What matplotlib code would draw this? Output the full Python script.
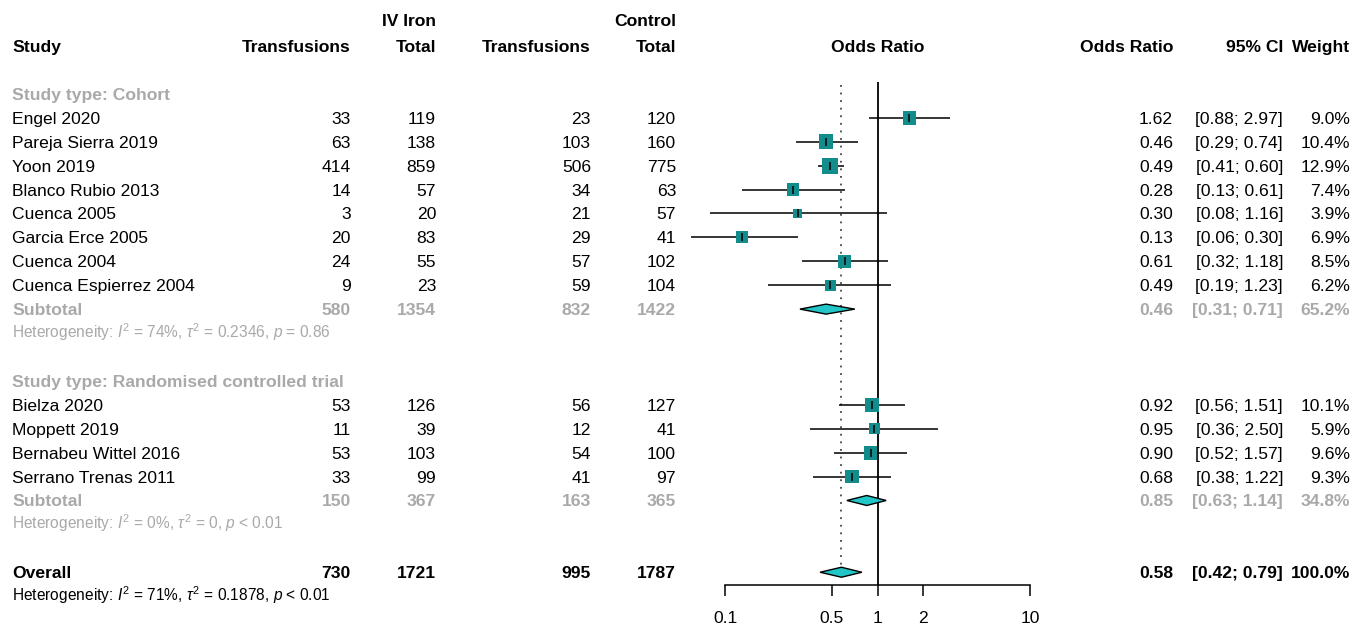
import numpy as np
import matplotlib
matplotlib.use("Agg")
import matplotlib.pyplot as plt

plt.rcParams['font.family'] = ['Liberation Sans', 'DejaVu Sans']
plt.rcParams['mathtext.fontset'] = 'custom'
plt.rcParams['mathtext.rm'] = 'Liberation Sans'
plt.rcParams['mathtext.it'] = 'Liberation Sans:italic'
plt.rcParams['mathtext.bf'] = 'Liberation Sans:bold'

# study level data
studies = ["Engel 2020", "Pareja Sierra 2019", "Yoon 2019", "Blanco Rubio 2013",
           "Cuenca 2005", "Garcia Erce 2005", "Cuenca 2004", "Cuenca Espierrez 2004",
           "Bielza 2020", "Moppett 2019", "Bernabeu Wittel 2016", "Serrano Trenas 2011"]
iv_events = [33, 63, 414, 14, 3, 20, 24, 9, 53, 11, 53, 33]
iv_total = [119, 138, 859, 57, 20, 83, 55, 23, 126, 39, 103, 99]
ctrl_events = [23, 103, 506, 34, 21, 29, 57, 59, 56, 12, 54, 41]
ctrl_total = [120, 160, 775, 63, 57, 41, 102, 104, 127, 41, 100, 97]
odds_ratio = [1.62, 0.46, 0.49, 0.28, 0.30, 0.13, 0.61, 0.49, 0.92, 0.95, 0.90, 0.68]
ci_lower = [0.88, 0.29, 0.41, 0.13, 0.08, 0.06, 0.32, 0.19, 0.56, 0.36, 0.52, 0.38]
ci_upper = [2.97, 0.74, 0.60, 0.61, 1.16, 0.30, 1.18, 1.23, 1.51, 2.50, 1.57, 1.22]
weights = [9.0, 10.4, 12.9, 7.4, 3.9, 6.9, 8.5, 6.2, 10.1, 5.9, 9.6, 9.3]

# subgroups
group_names = ["Study type: Cohort", "Study type: Randomised controlled trial"]
group_sizes = [8, 4]
sub_iv_events = [580, 150]
sub_iv_total = [1354, 367]
sub_ctrl_events = [832, 163]
sub_ctrl_total = [1422, 365]
sub_or = [0.46, 0.85]
sub_lower = [0.31, 0.63]
sub_upper = [0.71, 1.14]
sub_weight = [65.2, 34.8]
sub_het = [r"Heterogeneity: $I^2$ = 74%, $\tau^2$ = 0.2346, $p$ = 0.86",
           r"Heterogeneity: $I^2$ = 0%, $\tau^2$ = 0, $p$ < 0.01"]

# overall
overall_counts = [730, 1721, 995, 1787]
overall_or = 0.58
overall_lower = 0.42
overall_upper = 0.79
overall_weight = 100.0
overall_het = r"Heterogeneity: $I^2$ = 71%, $\tau^2$ = 0.1878, $p$ < 0.01"

axis_ticks = [0.1, 0.5, 1, 2, 10]
axis_labels = ["0.1", "0.5", "1", "2", "10"]

W, H = 1367, 625
GRAY = "#a9a9a9"
SQ_COL = "#138c8c"
DIA_COL = "#22c6c6"
FS = 12.6
FS_HET = 11.2

fig = plt.figure(figsize=(W / 100, H / 100), dpi=100)
tab = fig.add_axes([0, 0, 1, 1])
tab.set_xlim(0, W)
tab.set_ylim(H, 0)
tab.axis("off")

# forest panel: x in log odds ratio, y in pixel rows
px0, px1, ax_bottom = 680, 1075, 585
ppd = 152.5  # pixels per decade
lo_lim = 10 ** (np.log10(0.1) - (725 - px0) / ppd)
hi_lim = 10 ** (np.log10(0.1) + (px1 - 725) / ppd)
fp = fig.add_axes([px0 / W, (H - ax_bottom) / H, (px1 - px0) / W, ax_bottom / H])
fp.set_xscale("log")
fp.set_xlim(lo_lim, hi_lim)
fp.set_ylim(ax_bottom, 0)
fp.patch.set_alpha(0)
for s in ["top", "left", "right"]:
    fp.spines[s].set_visible(False)
fp.spines["bottom"].set_bounds(0.1, 10)
fp.spines["bottom"].set_linewidth(1.1)
fp.set_yticks([])
fp.set_xticks(axis_ticks)
fp.set_xticklabels(axis_labels)
fp.minorticks_off()
fp.tick_params(axis="x", direction="out", length=8, width=1.1, pad=10.5, labelsize=FS)

row0, step = 46.0, 23.92


def row_y(i):
    return row0 + step * i


# column right edges
c_iv_ev, c_iv_tot, c_ct_ev, c_ct_tot = 351, 436, 591, 676
c_or, c_ci, c_w = 1173, 1283, 1350


def put(x, y, s, ha="right", color="black", bold=False, size=FS):
    tab.text(x, y + 6, s, ha=ha, va="baseline", color=color, fontsize=size,
             fontweight="bold" if bold else "normal")


# headers
put(436, row_y(-1.08), "IV Iron", bold=True)
put(676, row_y(-1.08), "Control", bold=True)
put(12, row_y(0), "Study", ha="left", bold=True)
put(c_iv_ev, row_y(0), "Transfusions", bold=True)
put(c_iv_tot, row_y(0), "Total", bold=True)
put(c_ct_ev, row_y(0), "Transfusions", bold=True)
put(c_ct_tot, row_y(0), "Total", bold=True)
put(877.5, row_y(0), "Odds Ratio", ha="center", bold=True)
put(c_or, row_y(0), "Odds Ratio", bold=True)
put(c_ci, row_y(0), "95% CI", bold=True)
put(c_w, row_y(0), "Weight", bold=True)


def diamond(est, lo, hi, y, h=5.0):
    fp.fill([lo, est, hi, est], [y, y - h, y, y + h], facecolor=DIA_COL,
            edgecolor="black", linewidth=1.0, zorder=3)


study_rows = []
r = 2
start = 0
for g, n in enumerate(group_sizes):
    put(12, row_y(r), group_names[g], ha="left", color=GRAY, bold=True)
    r += 1
    for k in range(start, start + n):
        y = row_y(r)
        study_rows.append(y)
        put(12, y, studies[k], ha="left")
        put(c_iv_ev, y, str(iv_events[k]))
        put(c_iv_tot, y, str(iv_total[k]))
        put(c_ct_ev, y, str(ctrl_events[k]))
        put(c_ct_tot, y, str(ctrl_total[k]))
        put(c_or, y, f"{odds_ratio[k]:.2f}")
        put(c_ci, y, f"[{ci_lower[k]:.2f}; {ci_upper[k]:.2f}]")
        put(c_w, y, f"{weights[k]:.1f}%")
        r += 1
    start += n
    y = row_y(r)
    put(12, y, "Subtotal", ha="left", color=GRAY, bold=True)
    put(c_iv_ev, y, str(sub_iv_events[g]), color=GRAY, bold=True)
    put(c_iv_tot, y, str(sub_iv_total[g]), color=GRAY, bold=True)
    put(c_ct_ev, y, str(sub_ctrl_events[g]), color=GRAY, bold=True)
    put(c_ct_tot, y, str(sub_ctrl_total[g]), color=GRAY, bold=True)
    put(c_or, y, f"{sub_or[g]:.2f}", color=GRAY, bold=True)
    put(c_ci, y, f"[{sub_lower[g]:.2f}; {sub_upper[g]:.2f}]", color=GRAY, bold=True)
    put(c_w, y, f"{sub_weight[g]:.1f}%", color=GRAY, bold=True)
    diamond(sub_or[g], sub_lower[g], sub_upper[g], y)
    r += 1
    tab.text(12, row_y(r) + 5, sub_het[g], ha="left", va="baseline",
             color=GRAY, fontsize=FS_HET)
    r += 2

y = row_y(r)
put(12, y, "Overall", ha="left", bold=True)
for x, v in zip([c_iv_ev, c_iv_tot, c_ct_ev, c_ct_tot], overall_counts):
    put(x, y, str(v), bold=True)
put(c_or, y, f"{overall_or:.2f}", bold=True)
put(c_ci, y, f"[{overall_lower:.2f}; {overall_upper:.2f}]", bold=True)
put(c_w, y, f"{overall_weight:.1f}%", bold=True)
diamond(overall_or, overall_lower, overall_upper, y)
overall_y = y
tab.text(12, row_y(r + 1) + 5, overall_het, ha="left", va="baseline",
         color="black", fontsize=FS_HET)

# reference lines
fp.vlines(1, 82, ax_bottom, color="black", linewidth=1.3, zorder=2)
fp.vlines(overall_or, 85, overall_y - 4, color="#444444", linewidth=1.3,
          linestyles=(0, (1, 3.2)), zorder=1)

# study estimates, square area proportional to weight
ys = np.array(study_rows)
fp.hlines(ys, ci_lower, ci_upper, color="black", linewidth=1.1, zorder=2)
fp.scatter(odds_ratio, ys, s=np.array(weights) * 10.5, marker="s", color=SQ_COL,
           linewidths=0, zorder=3)
fp.scatter(odds_ratio, ys, s=40, marker="|", color="black", linewidths=1.1, zorder=4)

fig.savefig("out.png", dpi=100)
